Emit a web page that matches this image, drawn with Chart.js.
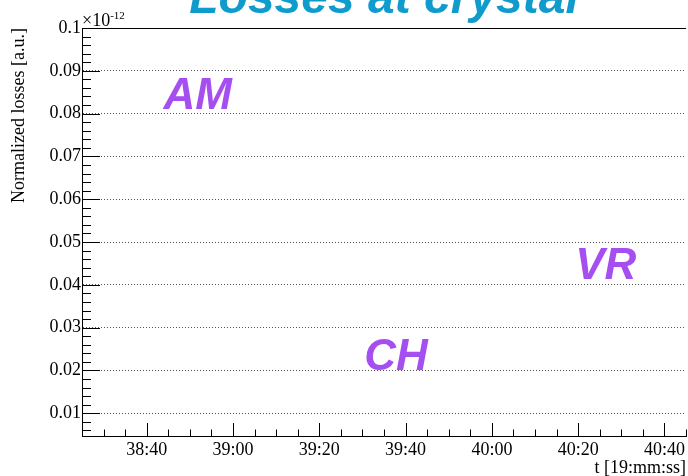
<!DOCTYPE html>
<html>
<head>
<meta charset="utf-8">
<script src="https://cdn.jsdelivr.net/npm/chart.js@4/dist/chart.umd.min.js"></script>
<style>
  html, body { margin: 0; padding: 0; background: #fff; overflow: hidden; }
  #wrap { width: 688px; height: 476px; position: relative; }
</style>
</head>
<body>
<div id="wrap"><canvas id="c"></canvas></div>
<script>
// Time axis in seconds after 19:00:00
const xTickSeconds = [2320, 2340, 2360, 2380, 2400, 2420, 2440];
const xTickLabels = ['38:40', '39:00', '39:20', '39:40', '40:00', '40:20', '40:40'];
const yTickValues = [0.01, 0.02, 0.03, 0.04, 0.05, 0.06, 0.07, 0.08, 0.09, 0.1];
const yTickLabels = ['0.01', '0.02', '0.03', '0.04', '0.05', '0.06', '0.07', '0.08', '0.09', '0.1'];

// Recorded losses (none in this time window), in units of 1e-12
const lossTimes = [];
const lossValues = [];

// Crystal orientation regions: name, time anchor [s], level anchor
const regionNames = ['AM', 'CH', 'VR'];
const regionTimes = [2323.9, 2370.4, 2419.3];
const regionLevels = [0.0810, 0.0201, 0.0413];

const SERIF = '"Liberation Serif", "Times New Roman", serif';
const SANS = '"Liberation Sans", Arial, sans-serif';

const rootFrame = {
  id: 'rootFrame',
  afterDraw(chart) {
    const { ctx, chartArea: a, scales: { x, y } } = chart;
    ctx.save();
    ctx.strokeStyle = '#000';
    ctx.lineWidth = 1;

    // top edge of the frame
    ctx.beginPath();
    ctx.moveTo(a.left, a.top + 0.5);
    ctx.lineTo(a.right, a.top + 0.5);
    ctx.stroke();

    // inward ticks on the y axis: minor every 0.002, major every 0.01
    const kMin = Math.ceil(y.min / 0.002 - 1e-6);
    const kMax = Math.floor(y.max / 0.002 + 1e-6);
    ctx.beginPath();
    for (let k = kMin; k <= kMax; k++) {
      const py = Math.round(y.getPixelForValue(k * 0.002)) + 0.5;
      const len = (k % 5 === 0) ? 18 : 9;
      ctx.moveTo(a.left, py);
      ctx.lineTo(a.left + len, py);
    }
    // inward ticks on the time axis: minor every 5 s, major every 20 s
    const sMin = Math.ceil(x.min / 5);
    const sMax = Math.floor(x.max / 5);
    for (let s = sMin; s <= sMax; s++) {
      const px = Math.round(x.getPixelForValue(s * 5)) + 0.5;
      const len = ((s * 5) % 20 === 0) ? 13 : 6.5;
      ctx.moveTo(px, a.bottom);
      ctx.lineTo(px, a.bottom - len);
    }
    ctx.stroke();

    // axis exponent
    ctx.fillStyle = '#000';
    ctx.textAlign = 'left';
    ctx.textBaseline = 'alphabetic';
    ctx.font = '18px ' + SERIF;
    const base = '\u00d710';
    ctx.fillText(base, a.left, 26);
    const w = ctx.measureText(base).width;
    ctx.font = '11px ' + SERIF;
    ctx.fillText('-12', a.left + w, 18.5);

    // region labels
    ctx.fillStyle = '#a64ff0';
    ctx.font = 'italic bold 44px ' + SANS;
    regionNames.forEach((name, i) => {
      ctx.fillText(name, x.getPixelForValue(regionTimes[i]), y.getPixelForValue(regionLevels[i]));
    });

    // plot title
    ctx.fillStyle = '#0f9bcb';
    ctx.font = 'italic bold 48px ' + SANS;
    ctx.textAlign = 'center';
    ctx.fillText('Losses at crystal', (a.left + a.right) / 2, 13);
    ctx.restore();
  }
};

new Chart(document.getElementById('c'), {
  type: 'scatter',
  data: {
    datasets: [{
      label: 'Losses at crystal',
      data: lossTimes.map((t, i) => ({ x: t, y: lossValues[i] })),
      showLine: true,
      borderColor: '#000',
      borderWidth: 1,
      pointRadius: 0
    }]
  },
  options: {
    responsive: true,
    maintainAspectRatio: false,
    animation: false,
    layout: { padding: { top: 28, left: 0, right: 0, bottom: 0 } },
    plugins: { legend: { display: false }, tooltip: { enabled: false } },
    scales: {
      x: {
        type: 'linear',
        min: 2305,
        max: 2445,
        afterBuildTicks: s => { s.ticks = xTickSeconds.map(v => ({ value: v })); },
        afterFit: s => { s.height = 40; },
        ticks: {
          autoSkip: false,
          maxRotation: 0,
          padding: 3,
          color: '#000',
          font: { family: SERIF, size: 18 },
          callback: v => xTickLabels[xTickSeconds.indexOf(v)]
        },
        grid: { display: false, drawTicks: false },
        border: { display: true, color: '#000', width: 1 },
        title: {
          display: true,
          text: 't [19:mm:ss]',
          align: 'end',
          color: '#000',
          font: { family: SERIF, size: 18, lineHeight: 0.9 },
          padding: 0
        }
      },
      y: {
        type: 'linear',
        min: 0.0047,
        max: 0.1,
        afterBuildTicks: s => { s.ticks = yTickValues.map(v => ({ value: v })); },
        afterFit: s => { s.width = 82; },
        ticks: {
          padding: 1,
          color: '#000',
          font: { family: SERIF, size: 18 },
          callback: v => yTickLabels[yTickValues.indexOf(v)]
        },
        grid: { drawTicks: false, color: '#555', lineWidth: 1 },
        border: { display: true, color: '#000', width: 1, dash: [1, 2] },
        title: {
          display: true,
          text: 'Normalized losses [a.u.]',
          align: 'end',
          color: '#000',
          font: { family: SERIF, size: 18 },
          padding: { top: 8, bottom: 0 }
        }
      }
    }
  },
  plugins: [rootFrame]
});
</script>
</body>
</html>
